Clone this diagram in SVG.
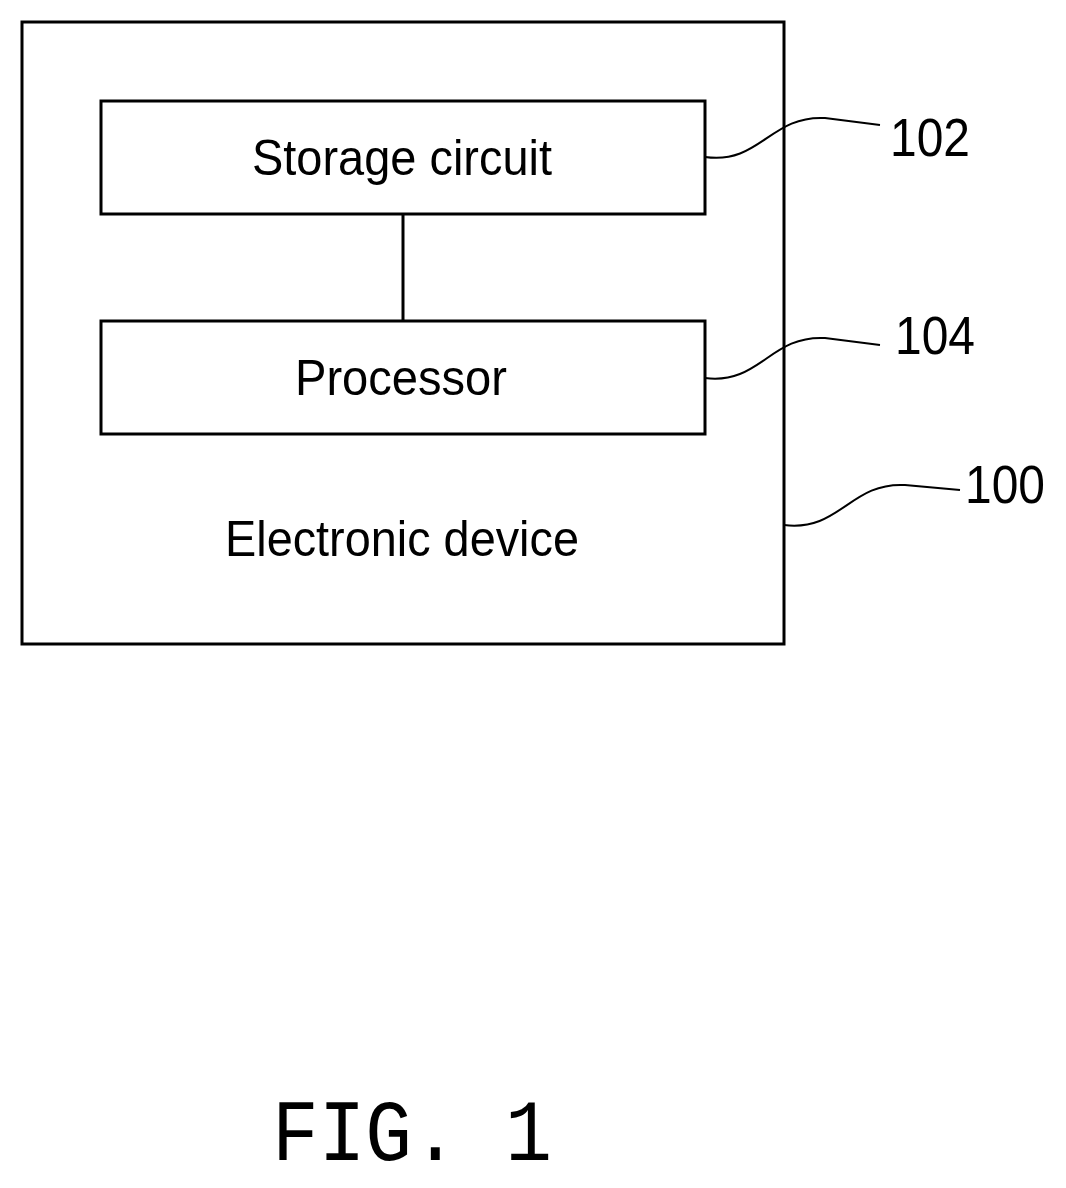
<svg xmlns="http://www.w3.org/2000/svg" width="1066" height="1188" viewBox="0 0 1066 1188">
<style>
.b{fill:none;stroke:#000;stroke-width:3}
.l{fill:none;stroke:#000;stroke-width:2}
.t{font-family:"Liberation Sans",sans-serif;font-size:50px;text-anchor:middle;fill:#000}
.n{font-family:"Liberation Sans",sans-serif;font-size:54px;fill:#000}
</style>
<rect width="1066" height="1188" fill="#fff"/>
<g id="device"><rect class="b" x="22" y="22" width="762" height="622"/><text class="t" x="402" y="556" textLength="354" lengthAdjust="spacingAndGlyphs">Electronic device</text></g>
<g id="storage"><rect class="b" x="101" y="101" width="604" height="113"/><text class="t" x="402" y="175" textLength="300" lengthAdjust="spacingAndGlyphs">Storage circuit</text></g>
<g id="processor"><rect class="b" x="101" y="321" width="604" height="113"/><text class="t" x="401" y="395" textLength="212" lengthAdjust="spacingAndGlyphs">Processor</text></g>
<g id="connectors">
<line class="b" x1="403" y1="214" x2="403" y2="321"/>
<path class="l" d="M705 157 C760 165 770 115 825 118 L880 125"/>
<path class="l" d="M705 378 C760 385 770 335 825 338 L880 345"/>
<path class="l" d="M784 525 C840 532 850 482 905 485 L960 490"/>
</g>
<text class="n" x="890" y="156" textLength="80" lengthAdjust="spacingAndGlyphs">102</text>
<text class="n" x="895" y="354" textLength="80" lengthAdjust="spacingAndGlyphs">104</text>
<text class="n" x="965" y="503" textLength="80" lengthAdjust="spacingAndGlyphs">100</text>
<text x="272" y="1160" textLength="280" lengthAdjust="spacingAndGlyphs" style="font-family:'Liberation Mono',monospace;font-size:88px">FIG. 1</text>
</svg>
